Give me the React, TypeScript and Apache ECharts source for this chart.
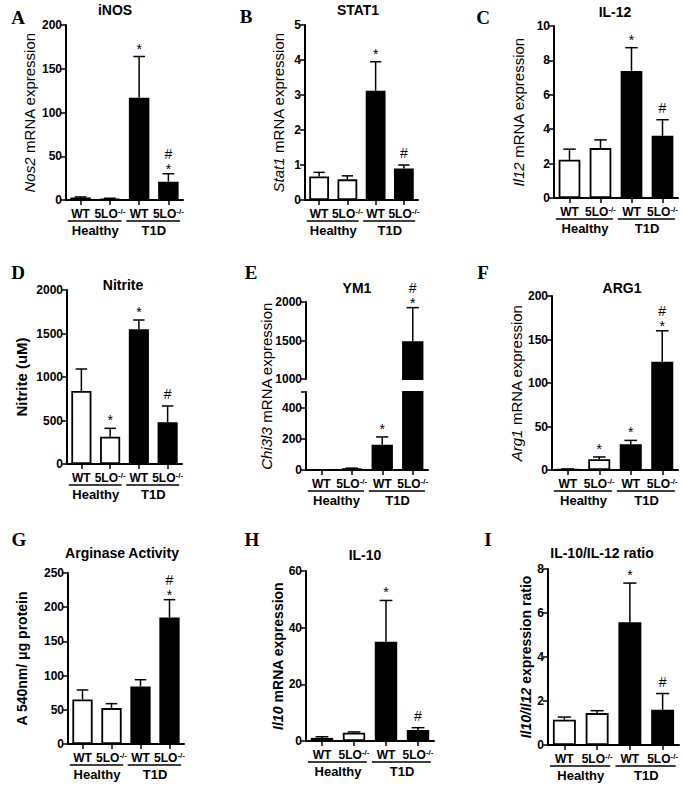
import React, { useEffect, useRef } from 'react';
import * as echarts from 'echarts';

// ---------- data ----------
const categories = ['WT', '5LO-/-', 'WT', '5LO-/-'];
const groups = ['Healthy', 'T1D'];

const iNOSMean = [3, 1.5, 117, 21];
const iNOSErr = [3.5, 2, 164, 30];
const iNOSSig = ['', '', '*', '#*'];

const stat1Mean = [0.67, 0.59, 3.12, 0.9];
const stat1Err = [0.79, 0.69, 3.95, 1.0];
const stat1Sig = ['', '', '*', '#'];

const il12Mean = [2.22, 2.9, 7.39, 3.62];
const il12Err = [2.84, 3.38, 8.74, 4.55];
const il12Sig = ['', '', '*', '#'];

const nitriteMean = [839, 314, 1548, 479];
const nitriteErr = [1092, 410, 1655, 667];
const nitriteSig = ['', '*', '*', '#'];

const ym1Mean = [1, 11, 162, 1490];
const ym1Err = [1, 12, 212, 1927];
const ym1Sig = ['', '', '*', '#*'];

const arg1Mean = [1, 12.3, 29.5, 124.5];
const arg1Err = [1.2, 15, 34, 160];
const arg1Sig = ['', '*', '*', '#*'];

const arginaseMean = [65, 52.5, 84, 185];
const arginaseErr = [79, 59, 94, 211];
const arginaseSig = ['', '', '', '#*'];

const il10Mean = [1.1, 2.9, 35, 3.9];
const il10Err = [1.5, 3.2, 49.6, 4.7];
const il10Sig = ['', '', '*', '#'];

const ratioMean = [1.15, 1.45, 5.58, 1.6];
const ratioErr = [1.27, 1.56, 7.36, 2.34];
const ratioSig = ['', '', '*', '#'];

const letters = ['A', 'B', 'C', 'D', 'E', 'F', 'G', 'H', 'I'];
const titles = ['iNOS', 'STAT1', 'IL-12', 'Nitrite', 'YM1', 'ARG1', 'Arginase Activity', 'IL-10', 'IL-10/IL-12 ratio'];
const yNames = [
  '{i|Nos2} mRNA expression',
  '{i|Stat1} mRNA expression',
  '{i|Il12} mRNA expression',
  'Nitrite (uM)',
  '{i|Chi3l3} mRNA expression',
  '{i|Arg1} mRNA expression',
  'A 540nm/ μg protein',
  '{i|Il10} mRNA expression',
  '{i|Il10/Il12} expression ratio',
];
const yMax = [200, 5, 10, 2000, 500, 200, 250, 60, 8];
const yInterval = [50, 1, 2, 500, 200, 50, 50, 20, 2];
const ym1UpperMin = 1000;
const ym1UpperMax = 2000;
const ym1UpperInterval = 500;
const ym1BreakLow = 500;

const means = [iNOSMean, stat1Mean, il12Mean, nitriteMean, ym1Mean, arg1Mean, arginaseMean, il10Mean, ratioMean];
const errs = [iNOSErr, stat1Err, il12Err, nitriteErr, ym1Err, arg1Err, arginaseErr, il10Err, ratioErr];
const sigs = [iNOSSig, stat1Sig, il12Sig, nitriteSig, ym1Sig, arg1Sig, arginaseSig, il10Sig, ratioSig];

// ---------- layout ----------
const gridRects = [
  [66, 25, 117, 175],
  [305, 25, 113, 175],
  [554, 26, 124, 172],
  [67, 290, 115, 174],
  [306, 392, 122, 78],
  [552, 296, 126, 174],
  [68, 573, 116, 171],
  [306, 571, 128, 170],
  [548, 569, 131, 176],
];
const ym1UpperRect = [306, 302, 122, 77];
const letterPos = [[18, 17], [246, 16], [483, 17], [18, 272], [251, 272], [483, 272], [19, 539], [252, 539], [488, 539]];
const titlePos = [[115, 10], [358, 10], [615, 12], [123, 285], [357, 288], [622, 288], [122, 553], [365, 555], [602, 553]];
const nameGaps = [29, 19, 28, 38, 23, 28, 39, 20, 15];
const nameBold = [false, false, false, true, false, false, true, true, true];
const nameSize = [15, 15, 15, 15, 15, 15, 14, 14, 14];
const ym1NamePos = [266, 386];

const FONT = '"Liberation Sans", Arial, sans-serif';
const SERIF = '"Liberation Serif", "Times New Roman", serif';

function makeErrRender(sig: string[]) {
  return (params: any, api: any) => {
    const i = api.value(0);
    const base = api.coord([i, api.value(1)]);
    const top = api.coord([i, api.value(2)]);
    const cw = api.size([1, 0])[0];
    const capHalf = cw * 0.2;
    const children: any[] = [
      { type: 'line', shape: { x1: base[0], y1: base[1], x2: top[0], y2: top[1] }, style: { stroke: '#000', lineWidth: 1.5 } },
      { type: 'line', shape: { x1: top[0] - capHalf, y1: top[1], x2: top[0] + capHalf, y2: top[1] }, style: { stroke: '#000', lineWidth: 1.5 } },
    ];
    const s = sig[i] || '';
    const chars = s.split('');
    chars.forEach((ch, k) => {
      const fromBottom = chars.length - 1 - k;
      let off: number;
      if (chars.length === 1) off = ch === '*' ? 8 : 12;
      else off = fromBottom === 0 ? (ch === '*' ? 5 : 9) : 20;
      children.push({
        type: 'text',
        x: top[0],
        y: top[1] - off,
        style: { text: ch, fill: '#000', font: `14px ${FONT}`, align: 'center', verticalAlign: 'middle' },
      });
    });
    return { type: 'group', children };
  };
}

function groupRender(params: any, api: any) {
  const a = api.coord([api.value(0), 0]);
  const b = api.coord([api.value(2), 0]);
  const cw = api.size([1, 0])[0];
  const y = a[1] + 21;
  return {
    type: 'group',
    children: [
      { type: 'line', shape: { x1: a[0] - cw * 0.44, y1: y, x2: b[0] + cw * 0.4, y2: y }, style: { stroke: '#000', lineWidth: 1.5 } },
      {
        type: 'text',
        x: (a[0] + b[0]) / 2,
        y: y + 3,
        style: { text: groups[api.value(3)], fill: '#000', font: `bold 13px ${FONT}`, align: 'center', verticalAlign: 'top' },
      },
    ],
  };
}

const axisLineStyle = { color: '#000', width: 2 };
const tickStyle = { color: '#000', width: 1.5 };

function buildOption() {
  const grid: any[] = [];
  const xAxis: any[] = [];
  const yAxis: any[] = [];
  const series: any[] = [];
  const graphic: any[] = [];

  const catLabel = {
    interval: 0,
    margin: 7,
    formatter: (v: string) => (v === 'WT' ? '{b|WT}' : '{b|5LO}{s|-/-}'),
    rich: {
      b: { fontSize: 12, fontWeight: 'bold', fontFamily: FONT, color: '#000', lineHeight: 14 },
      s: { fontSize: 8, fontWeight: 'bold', fontFamily: FONT, color: '#000', verticalAlign: 'top', lineHeight: 8 },
    },
  };

  const addPanel = (gi: number, rect: number[], min: number, max: number, interval: number, showX: boolean, name: string | null, p: number) => {
    grid.push({ left: rect[0], top: rect[1], width: rect[2], height: rect[3], containLabel: false });
    xAxis.push({
      type: 'category',
      gridIndex: gi,
      data: categories,
      show: showX,
      axisLine: { show: showX, lineStyle: axisLineStyle },
      axisTick: { show: showX, alignWithLabel: true, length: 5, lineStyle: tickStyle },
      axisLabel: { ...catLabel, show: showX },
    });
    yAxis.push({
      type: 'value',
      gridIndex: gi,
      min,
      max,
      interval,
      splitLine: { show: false },
      axisLine: { show: true, lineStyle: axisLineStyle },
      axisTick: { show: true, length: 5, lineStyle: tickStyle },
      axisLabel: {
        fontSize: 12,
        fontWeight: 'bold',
        fontFamily: FONT,
        color: '#000',
        margin: 4,
        formatter: (v: number) => (p === 4 && v === ym1BreakLow ? '' : String(v)),
      },
      name: name || '',
      nameLocation: 'middle',
      nameRotate: 90,
      nameGap: nameGaps[p],
      nameTextStyle: {
        fontSize: nameSize[p],
        fontFamily: FONT,
        fontWeight: nameBold[p] ? 'bold' : 'normal',
        color: '#000',
        rich: {
          i: { fontSize: nameSize[p], fontFamily: FONT, fontStyle: 'italic', fontWeight: nameBold[p] ? 'bold' : 'normal', color: '#000' },
        },
      },
    });
  };

  let gi = 0;
  for (let p = 0; p < 9; p++) {
    const mean = means[p];
    const err = errs[p];
    const sig = sigs[p];
    const isE = p === 4;
    addPanel(gi, gridRects[p], 0, yMax[p], yInterval[p], true, isE ? null : yNames[p], p);
    const barData = mean.map((v, i) => ({
      value: v,
      itemStyle: { color: i < 2 ? '#fff' : '#000', borderColor: '#000', borderWidth: 1.8 },
    }));
    series.push({ type: 'bar', xAxisIndex: gi, yAxisIndex: gi, data: barData, barWidth: '70%', z: 2 });
    const errData = mean
      .map((v, i) => [i, v, err[i]])
      .filter((d) => !isE || d[2] <= ym1BreakLow);
    series.push({ type: 'custom', xAxisIndex: gi, yAxisIndex: gi, data: errData, renderItem: makeErrRender(sig), z: 3, clip: false });
    series.push({
      type: 'custom',
      xAxisIndex: gi,
      yAxisIndex: gi,
      data: groups.map((g, k) => [k * 2, 0, k * 2 + 1, k]),
      renderItem: groupRender,
      z: 3,
      clip: false,
    });
    gi++;
    if (isE) {
      addPanel(gi, ym1UpperRect, ym1UpperMin, ym1UpperMax, ym1UpperInterval, false, null, p);
      const upData = mean.map((v, i) =>
        v >= ym1UpperMin
          ? { value: v, itemStyle: { color: i < 2 ? '#fff' : '#000', borderColor: '#000', borderWidth: 1.8 } }
          : '-'
      );
      series.push({ type: 'bar', xAxisIndex: gi, yAxisIndex: gi, data: upData, barWidth: '70%', z: 2 });
      const upErr = mean.map((v, i) => [i, v, err[i]]).filter((d) => d[2] > ym1UpperMin);
      series.push({ type: 'custom', xAxisIndex: gi, yAxisIndex: gi, data: upErr, renderItem: makeErrRender(sig), z: 3, clip: false });
      gi++;
    }
    graphic.push({
      type: 'text',
      x: letterPos[p][0],
      y: letterPos[p][1],
      style: { text: letters[p], fill: '#000', font: `bold 19px ${SERIF}`, align: 'center', verticalAlign: 'middle' },
    });
    graphic.push({
      type: 'text',
      x: titlePos[p][0],
      y: titlePos[p][1],
      style: { text: titles[p], fill: '#000', font: `bold 14px ${FONT}`, align: 'center', verticalAlign: 'middle' },
    });
  }
  graphic.push({
    type: 'text',
    x: ym1NamePos[0],
    y: ym1NamePos[1],
    rotation: Math.PI / 2,
    style: {
      text: yNames[4],
      fill: '#000',
      fontSize: 15,
      fontFamily: FONT,
      align: 'center',
      verticalAlign: 'middle',
      rich: { i: { fontSize: 15, fontFamily: FONT, fontStyle: 'italic', fill: '#000' } },
    },
  });

  return { animation: false, backgroundColor: '#fff', grid, xAxis, yAxis, series, graphic };
}

export default function App() {
  const ref = useRef<HTMLDivElement>(null);
  useEffect(() => {
    if (!ref.current) return;
    const chart = echarts.init(ref.current, undefined, { renderer: 'svg' });
    chart.setOption(buildOption() as any);
    return () => chart.dispose();
  }, []);
  return <div ref={ref} style={{ position: 'fixed', left: 0, top: 0, width: 685, height: 789, background: '#fff' }} />;
}
